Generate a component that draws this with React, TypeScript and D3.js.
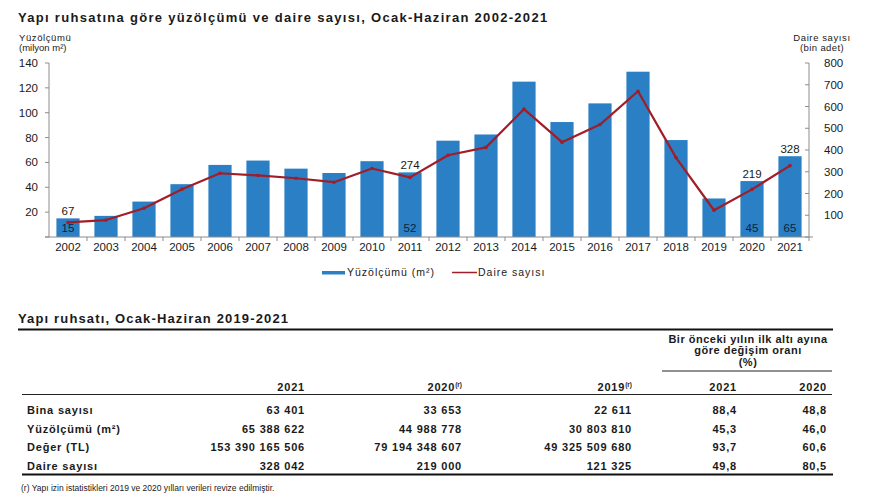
import React from 'react';
import * as d3 from 'd3';

const years = ['2002','2003','2004','2005','2006','2007','2008','2009','2010','2011','2012','2013','2014','2015','2016','2017','2018','2019','2020','2021'];
const areaValues = [15, 17, 28.5, 42.5, 58, 61.5, 55, 51.5, 61, 52, 77.5, 82.5, 125, 92.5, 107.5, 133, 78, 31, 45, 65];
const dwellingValues = [67, 78, 132, 220, 293, 283, 270, 252, 315, 274, 376, 412, 588, 436, 517, 670, 365, 123, 219, 328];
const leftTicks = [20, 40, 60, 80, 100, 120, 140];
const rightTicks = [100, 200, 300, 400, 500, 600, 700, 800];
const labeledYears = ['2002', '2011', '2020', '2021'];

const tableRows = ['Bina sayısı', 'Yüzölçümü (m²)', 'Değer (TL)', 'Daire sayısı'];
const col2021 = ['63 401', '65 388 622', '153 390 165 506', '328 042'];
const col2020 = ['33 653', '44 988 778', '79 194 348 607', '219 000'];
const col2019 = ['22 611', '30 803 810', '49 325 509 680', '121 325'];
const pct2021 = ['88,4', '45,3', '93,7', '49,8'];
const pct2020 = ['48,8', '46,0', '60,6', '80,5'];

const FONT = '"Liberation Sans", Arial, Helvetica, sans-serif';
const BLUE = '#2a7fc5';
const RED = '#a11d27';
const AXIS = '#8c8c8c';
const TXT = '#1a1a1a';

export default function App() {
  const x = d3.scaleBand<string>().domain(years).range([49, 809]).paddingInner(0.39).paddingOuter(0.195);
  const yL = d3.scaleLinear().domain([0, 140]).range([237, 63]);
  const yR = d3.scaleLinear().domain([0, 800]).range([237, 63]);
  const bw = x.bandwidth();
  const cx = (y: string) => (x(y) as number) + bw / 2;
  const line = d3.line<number>().x((_, i) => cx(years[i])).y(d => yR(d));
  const step = x.step();

  const colRight = [305, 462, 632, 737, 827];
  const rowY = [410, 428.5, 447, 465.5];

  return (
    <svg width={880} height={495} style={{ position: 'absolute', left: 0, top: 0, background: '#fff' }} fontFamily={FONT}>
      <rect width={880} height={495} fill="#fff" />
      {/* Title */}
      <text x={18} y={22} fontSize={13} fontWeight="bold" fill={TXT} letterSpacing={1.3}>Yapı ruhsatına göre yüzölçümü ve daire sayısı, Ocak-Haziran 2002-2021</text>

      {/* Axis titles */}
      <text x={19} y={41} fontSize={9.5} fill={TXT} letterSpacing={0.6}>Yüzölçümü</text>
      <text x={19} y={51} fontSize={9.5} fill={TXT}>(milyon m²)</text>
      <text x={822} y={41} fontSize={9.5} fill={TXT} textAnchor="middle" letterSpacing={0.6}>Daire sayısı</text>
      <text x={822} y={51} fontSize={9.5} fill={TXT} textAnchor="middle" letterSpacing={0.4}>(bin adet)</text>

      {/* Bars */}
      {years.map((yr, i) => (
        <rect key={yr} x={x(yr)} y={yL(areaValues[i])} width={bw} height={yL(0) - yL(areaValues[i])} fill={BLUE} />
      ))}

      {/* Left axis */}
      <line x1={49} x2={49} y1={63} y2={237} stroke={AXIS} />
      {[0, ...leftTicks].map(t => (
        <line key={'lt' + t} x1={45} x2={49} y1={yL(t)} y2={yL(t)} stroke={AXIS} />
      ))}
      {leftTicks.map(t => (
        <text key={'ll' + t} x={38} y={yL(t) + 4} fontSize={11.5} textAnchor="end" fill={TXT}>{t}</text>
      ))}

      {/* Right axis */}
      <line x1={809} x2={809} y1={63} y2={237} stroke={AXIS} />
      {[0, ...rightTicks].map(t => (
        <line key={'rt' + t} x1={805} x2={809} y1={yR(t)} y2={yR(t)} stroke={AXIS} />
      ))}
      {rightTicks.map(t => (
        <text key={'rl' + t} x={824} y={yR(t) + 4} fontSize={11.5} fill={TXT}>{t}</text>
      ))}

      {/* X axis */}
      <line x1={45} x2={813} y1={237} y2={237} stroke={AXIS} />
      {years.map((yr, i) => (
        <line key={'xt' + yr} x1={49 + step * (i + 1)} x2={49 + step * (i + 1)} y1={237} y2={241} stroke={AXIS} />
      ))}
      {years.map(yr => (
        <text key={'xl' + yr} x={cx(yr)} y={251} fontSize={11.5} textAnchor="middle" fill={TXT}>{yr}</text>
      ))}

      {/* Line */}
      <path d={line(dwellingValues) || ''} fill="none" stroke={RED} strokeWidth={2.2} strokeLinejoin="round" />
      {years.map((yr, i) => (
        <circle key={'m' + yr} cx={cx(yr)} cy={yR(dwellingValues[i])} r={1.8} fill={RED} />
      ))}

      {/* Data labels */}
      {labeledYears.map(yr => {
        const i = years.indexOf(yr);
        return (
          <g key={'lab' + yr}>
            <text x={cx(yr)} y={yL(areaValues[i]) - 3} fontSize={11.5} textAnchor="middle" fill={TXT}>{dwellingValues[i]}</text>
            <text x={cx(yr)} y={232} fontSize={11.5} textAnchor="middle" fill="#0d1f3a">{areaValues[i]}</text>
          </g>
        );
      })}

      {/* Legend */}
      <rect x={322} y={271} width={23} height={3.5} fill={BLUE} />
      <text x={347} y={276} fontSize={10.5} fill={TXT} letterSpacing={1}>Yüzölçümü (m²)</text>
      <line x1={452} x2={477} y1={272.5} y2={272.5} stroke={RED} strokeWidth={1.5} />
      <text x={478} y={276} fontSize={10.5} fill={TXT} letterSpacing={1}>Daire sayısı</text>

      {/* Table */}
      <text x={18} y={323} fontSize={13} fontWeight="bold" fill={TXT} letterSpacing={1.15}>Yapı ruhsatı, Ocak-Haziran 2019-2021</text>
      <line x1={18} x2={833} y1={329.5} y2={329.5} stroke="#111" strokeWidth={2} />
      <g fontSize={11} fontWeight="bold" fill={TXT} letterSpacing={0.5}>
        <text x={748} y={343} textAnchor="middle">Bir önceki yılın ilk altı ayına</text>
        <text x={748} y={353.5} textAnchor="middle">göre değişim oranı</text>
        <text x={748} y={366} textAnchor="middle">(%)</text>
      </g>
      <line x1={662} x2={832} y1={371} y2={371} stroke="#222" strokeWidth={1} />
      <g fontSize={11} fontWeight="bold" fill={TXT} letterSpacing={0.8}>
        <text x={colRight[0]} y={391} textAnchor="end">2021</text>
        <text x={colRight[1]} y={391} textAnchor="end">2020<tspan fontSize={6.5} dy={-4} letterSpacing={0}>(r)</tspan></text>
        <text x={colRight[2]} y={391} textAnchor="end">2019<tspan fontSize={6.5} dy={-4} letterSpacing={0}>(r)</tspan></text>
        <text x={colRight[3]} y={391} textAnchor="end">2021</text>
        <text x={colRight[4]} y={391} textAnchor="end">2020</text>
      </g>
      <line x1={22} x2={832} y1={394.5} y2={394.5} stroke="#222" strokeWidth={1} />
      <g fontSize={11} fontWeight="bold" fill={TXT} letterSpacing={0.8}>
        {tableRows.map((r, i) => (
          <g key={'row' + i}>
            <text x={27} y={rowY[i] + 4}>{r}</text>
            <text x={colRight[0]} y={rowY[i] + 4} textAnchor="end">{col2021[i]}</text>
            <text x={colRight[1]} y={rowY[i] + 4} textAnchor="end">{col2020[i]}</text>
            <text x={colRight[2]} y={rowY[i] + 4} textAnchor="end">{col2019[i]}</text>
            <text x={colRight[3]} y={rowY[i] + 4} textAnchor="end">{pct2021[i]}</text>
            <text x={colRight[4]} y={rowY[i] + 4} textAnchor="end">{pct2020[i]}</text>
          </g>
        ))}
      </g>
      <line x1={22} x2={833} y1={474.5} y2={474.5} stroke="#111" strokeWidth={2} />
      <text x={21} y={491} fontSize={8.5} fill={TXT}>(r) Yapı izin istatistikleri 2019 ve 2020 yılları verileri revize edilmiştir.</text>
    </svg>
  );
}
